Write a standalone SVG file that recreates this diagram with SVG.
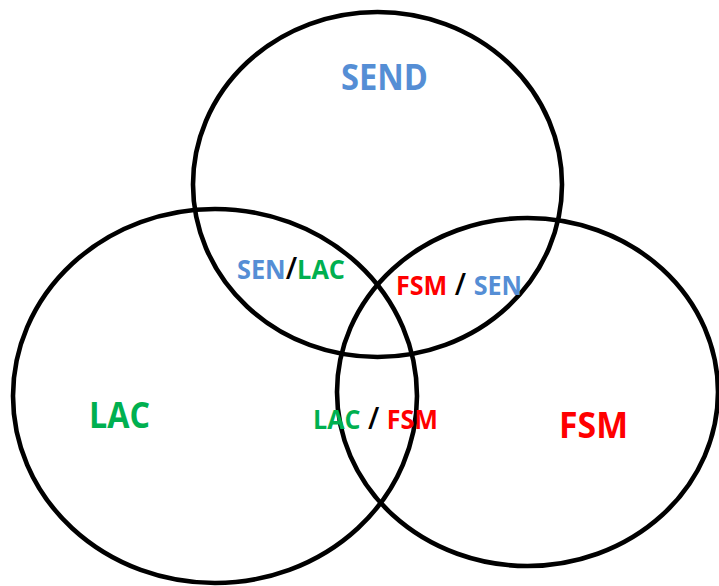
<svg xmlns="http://www.w3.org/2000/svg" width="719" height="586" viewBox="0 0 719 586">
<style>
.set{fill:none;stroke:#000;stroke-width:4.6}
text{font-family:"Open Sans","Liberation Sans",sans-serif;font-weight:bold}
.big{font-size:35px}
.small{font-size:26px}
.b{fill:#558ED5}
.g{fill:#00B050}
.r{fill:#FF0000}
.k{fill:#000;font-weight:600;font-size:30px}
</style>
<rect width="719" height="586" fill="#fff"/>
<g id="set-send">
<ellipse class="set" cx="377.5" cy="184.5" rx="184.5" ry="172.5"/>
<text class="big b" x="341" y="90" textLength="87" lengthAdjust="spacingAndGlyphs">SEND</text>
</g>
<g id="set-lac">
<ellipse class="set" cx="215" cy="396" rx="202" ry="187"/>
<text class="big g" x="89" y="428" textLength="61" lengthAdjust="spacingAndGlyphs">LAC</text>
</g>
<g id="set-fsm">
<ellipse class="set" cx="527.5" cy="392" rx="190.5" ry="174"/>
<text class="big r" x="559" y="438" textLength="69" lengthAdjust="spacingAndGlyphs">FSM</text>
</g>
<g id="overlap-sen-lac">
<text class="small" x="237" y="279" textLength="108" lengthAdjust="spacingAndGlyphs"><tspan class="b">SEN</tspan><tspan class="k">/</tspan><tspan class="g">LAC</tspan></text>
</g>
<g id="overlap-fsm-sen">
<text class="small" x="396" y="295" textLength="126" lengthAdjust="spacingAndGlyphs"><tspan class="r">FSM</tspan><tspan class="k"> / </tspan><tspan class="b">SEN</tspan></text>
</g>
<g id="overlap-lac-fsm">
<text class="small" x="313" y="429" textLength="125" lengthAdjust="spacingAndGlyphs"><tspan class="g">LAC</tspan><tspan class="k"> / </tspan><tspan class="r">FSM</tspan></text>
</g>
<g id="connectors"></g>
</svg>
